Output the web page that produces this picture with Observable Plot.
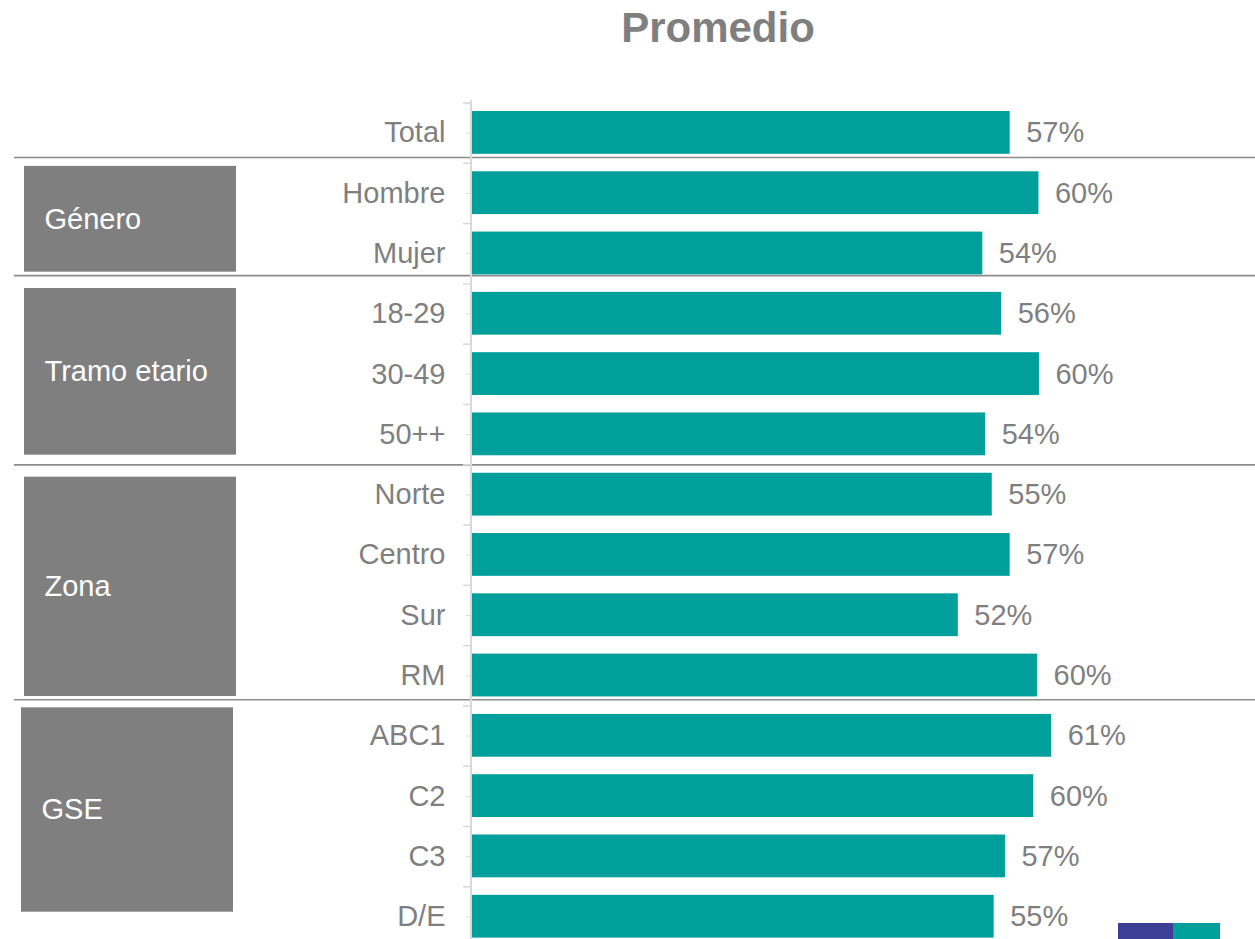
<!DOCTYPE html>
<html>
<head>
<meta charset="utf-8">
<script src="https://cdn.jsdelivr.net/npm/d3@7"></script>
<script src="https://cdn.jsdelivr.net/npm/@observablehq/plot@0.6"></script>
<style>
  html, body { margin: 0; padding: 0; background: #fff; }
  #wrap { position: relative; width: 1255px; height: 939px; overflow: hidden; font-family: "Liberation Sans", Arial, sans-serif; }
  #title { position: absolute; left: 718px; top: 7px; transform: translateX(-50%); font-size: 42px; line-height: 42px; font-weight: bold; color: #7f7f7f; white-space: nowrap; }
  #chart { position: absolute; left: 0; top: 0; }
  .logo { position: absolute; top: 923px; height: 16px; }
</style>
</head>
<body>
<div id="wrap">
  <div id="chart"></div>
  <div id="title">Promedio</div>
  <div class="logo" style="left:1118px;width:55px;background:#3d3f96;"></div>
  <div class="logo" style="left:1173px;width:47px;background:#009f9b;"></div>
</div>
<script>
// ---- data ----
const categories = ["Total", "Hombre", "Mujer", "18-29", "30-49", "50++", "Norte", "Centro", "Sur", "RM", "ABC1", "C2", "C3", "D/E"];
const values = [57.0, 60.05, 54.1, 56.1, 60.1, 54.4, 55.1, 57.0, 51.5, 59.9, 61.4, 59.5, 56.5, 55.3];
const valueLabels = ["57%", "60%", "54%", "56%", "60%", "54%", "55%", "57%", "52%", "60%", "61%", "60%", "57%", "55%"];
const groupNames = ["Género", "Tramo etario", "Zona", "GSE"];
const groupFirst = ["Hombre", "18-29", "Norte", "ABC1"];
const groupLast = ["Mujer", "50++", "RM", "D/E"];

const rows = categories.map((c, i) => ({category: c, value: values[i], label: valueLabels[i]}));
const groups = groupNames.map((g, i) => ({name: g, first: groupFirst[i], last: groupLast[i]}));

const W = 1255, H = 939;
const ML = 472;
const TEAL = "#009f9b", GREY = "#7f7f7f", LIGHT = "#d9d9d9", SEP = "#8c8c8c";
const bandTop = 102.5, bandBottom = 946.6;
const bw = (bandBottom - bandTop) / categories.length;

// per-group box insets and label offsets (styling)
const boxInsets = [[3.1, 11.7], [4.6, 9.6], [12.4, 9.4], [1.9, 34.9]];
const boxX = [[24, 236], [24, 236], [24, 236], [21, 233]];
const labelDy = [25.9, 57.7, 91.9, 73.9];
const sepDy = [-36, -38.4, -30, -36.3];

const marks = [];

// group boxes
groups.forEach((g, i) => {
  marks.push(Plot.rect([g], {
    y1: "first", y2: "last",
    fill: GREY,
    insetTop: boxInsets[i][0], insetBottom: boxInsets[i][1],
    insetLeft: -(ML - boxX[i][0]), insetRight: W - boxX[i][1]
  }));
  marks.push(Plot.text([g], {
    y: "first", text: "name", frameAnchor: "left", textAnchor: "start",
    dx: boxX[i][0] + 20 - ML, dy: labelDy[i],
    fill: "white", fontSize: 29
  }));
  marks.push(Plot.ruleY([g], {
    y: "first", dy: sepDy[i], stroke: SEP, strokeWidth: 1.6,
    insetLeft: -(ML - 14)
  }));
});

// boundary ticks
marks.push(Plot.ruleY(categories, {y: d => d, dy: -bw / 2, stroke: LIGHT, strokeWidth: 1.5, insetLeft: -9, insetRight: W - ML + 1}));

// bars
marks.push(Plot.barX(rows, {x: "value", y: "category", fill: TEAL, insetTop: 8.5, insetBottom: 9}));

// axis line
marks.push(Plot.ruleX([0], {stroke: LIGHT, strokeWidth: 2, dx: -1.5}));

// axis with ticks and labels
marks.push(Plot.axisY({
  tickSize: 6, tickPadding: 21, stroke: LIGHT, fill: GREY, fontSize: 29, label: null
}));

// value labels
marks.push(Plot.text(rows, {x: "value", y: "category", text: "label", textAnchor: "start", dx: 16, fill: GREY, fontSize: 29}));

const chart = Plot.plot({
  width: W,
  height: H,
  marginLeft: ML,
  marginRight: 0,
  marginTop: 100,
  marginBottom: 0,
  style: {fontFamily: "'Liberation Sans', Arial, sans-serif", background: "transparent", overflow: "visible"},
  x: {domain: [0, (W - ML) / 9.433], axis: null},
  y: {domain: categories, range: [bandTop, bandBottom], padding: 0, round: false, axis: null},
  marks
});
document.getElementById("chart").appendChild(chart);
</script>
</body>
</html>
